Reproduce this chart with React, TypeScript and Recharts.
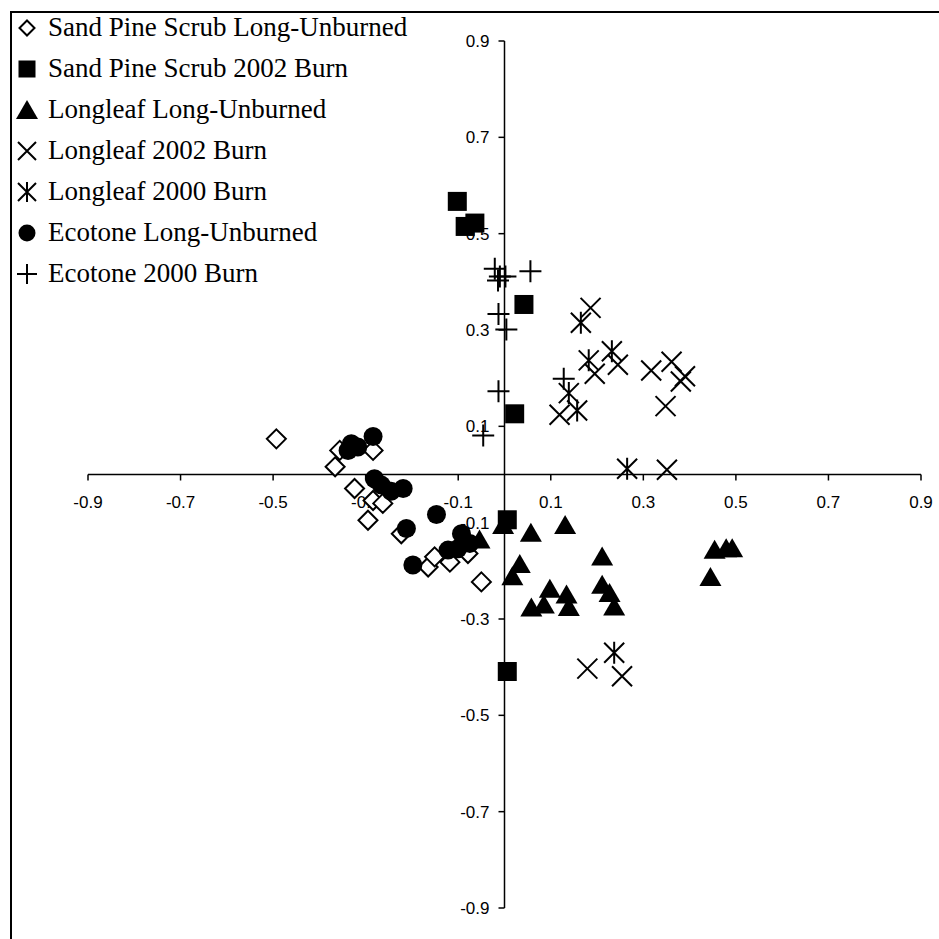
import React from 'react';
import { ScatterChart, Scatter, XAxis, YAxis, ReferenceLine } from 'recharts';

// ordination scores (axis 1 = x, axis 2 = y)
type Pt = { x: number; y: number };

const sandPineUnburned: Pt[] = [
  { x: -0.493, y: 0.074 }, { x: -0.366, y: 0.016 }, { x: -0.356, y: 0.05 },
  { x: -0.284, y: 0.05 }, { x: -0.324, y: -0.029 }, { x: -0.295, y: -0.095 },
  { x: -0.284, y: -0.054 }, { x: -0.263, y: -0.06 }, { x: -0.223, y: -0.123 },
  { x: -0.165, y: -0.192 }, { x: -0.151, y: -0.171 }, { x: -0.118, y: -0.182 },
  { x: -0.079, y: -0.164 }, { x: -0.05, y: -0.223 },
];

const sandPine2002: Pt[] = [
  { x: -0.102, y: 0.567 }, { x: -0.085, y: 0.515 }, { x: -0.064, y: 0.522 },
  { x: 0.042, y: 0.353 }, { x: 0.022, y: 0.126 }, { x: 0.006, y: -0.094 },
  { x: 0.006, y: -0.409 },
];

const longleafUnburned: Pt[] = [
  { x: -0.003, y: -0.105 }, { x: 0.057, y: -0.121 }, { x: 0.131, y: -0.105 },
  { x: 0.033, y: -0.186 }, { x: 0.017, y: -0.211 }, { x: 0.098, y: -0.237 },
  { x: 0.134, y: -0.249 }, { x: 0.058, y: -0.276 }, { x: 0.085, y: -0.27 },
  { x: 0.139, y: -0.275 }, { x: 0.211, y: -0.17 }, { x: 0.211, y: -0.229 },
  { x: 0.227, y: -0.246 }, { x: 0.237, y: -0.274 }, { x: 0.454, y: -0.156 },
  { x: 0.479, y: -0.153 }, { x: 0.492, y: -0.153 }, { x: 0.445, y: -0.213 },
  { x: -0.054, y: -0.135 },
];

const longleaf2002: Pt[] = [
  { x: 0.186, y: 0.346 }, { x: 0.195, y: 0.209 }, { x: 0.245, y: 0.228 },
  { x: 0.317, y: 0.216 }, { x: 0.361, y: 0.234 }, { x: 0.39, y: 0.204 },
  { x: 0.381, y: 0.193 }, { x: 0.348, y: 0.142 }, { x: 0.119, y: 0.124 },
  { x: 0.351, y: 0.01 }, { x: 0.179, y: -0.403 }, { x: 0.254, y: -0.419 },
];

const longleaf2000: Pt[] = [
  { x: 0.165, y: 0.315 }, { x: 0.182, y: 0.237 }, { x: 0.232, y: 0.256 },
  { x: 0.139, y: 0.169 }, { x: 0.157, y: 0.133 }, { x: 0.265, y: 0.012 },
  { x: 0.237, y: -0.37 },
];

const ecotoneUnburned: Pt[] = [
  { x: -0.331, y: 0.064 }, { x: -0.338, y: 0.05 }, { x: -0.317, y: 0.057 },
  { x: -0.284, y: 0.079 }, { x: -0.281, y: -0.009 }, { x: -0.266, y: -0.022 },
  { x: -0.245, y: -0.035 }, { x: -0.219, y: -0.029 }, { x: -0.212, y: -0.112 },
  { x: -0.147, y: -0.083 }, { x: -0.198, y: -0.188 }, { x: -0.122, y: -0.157 },
  { x: -0.093, y: -0.123 }, { x: -0.075, y: -0.143 }, { x: -0.101, y: -0.154 },
];

const ecotone2000: Pt[] = [
  { x: -0.021, y: 0.427 }, { x: -0.014, y: 0.403 }, { x: -0.01, y: 0.411 },
  { x: 0.002, y: 0.411 }, { x: 0.056, y: 0.422 }, { x: -0.013, y: 0.333 },
  { x: 0.004, y: 0.301 }, { x: -0.013, y: 0.173 }, { x: -0.046, y: 0.081 },
  { x: 0.128, y: 0.199 },
];

const TICKS = [-0.9, -0.7, -0.5, -0.3, -0.1, 0.1, 0.3, 0.5, 0.7, 0.9];

const SERIES_NAMES = [
  'Sand Pine Scrub Long-Unburned',
  'Sand Pine Scrub 2002 Burn',
  'Longleaf Long-Unburned',
  'Longleaf 2002 Burn',
  'Longleaf 2000 Burn',
  'Ecotone Long-Unburned',
  'Ecotone 2000 Burn',
];

const TICK_FONT = '"Liberation Sans", Arial, sans-serif';
const LEGEND_FONT = '"Liberation Serif", "Times New Roman", serif';

type Kind = 'diamond' | 'square' | 'triangle' | 'cross' | 'star' | 'circle' | 'plus';

// draws one marker centred on cx, cy; s is the half size
function Marker({ kind, cx, cy, s }: { kind: Kind; cx: number; cy: number; s: number }) {
  const sw = 2;
  switch (kind) {
    case 'diamond':
      return (
        <path
          d={`M${cx},${cy - s} L${cx + s},${cy} L${cx},${cy + s} L${cx - s},${cy} Z`}
          fill="#fff"
          stroke="#000"
          strokeWidth={sw}
        />
      );
    case 'square':
      return <rect x={cx - s} y={cy - s} width={2 * s} height={2 * s} fill="#000" />;
    case 'triangle':
      return (
        <path
          d={`M${cx},${cy - s} L${cx + s * 1.1},${cy + s * 0.9} L${cx - s * 1.1},${cy + s * 0.9} Z`}
          fill="#000"
        />
      );
    case 'circle':
      return <circle cx={cx} cy={cy} r={s} fill="#000" />;
    case 'cross':
      return (
        <path
          d={`M${cx - s},${cy - s} L${cx + s},${cy + s} M${cx + s},${cy - s} L${cx - s},${cy + s}`}
          stroke="#000"
          strokeWidth={sw}
          fill="none"
        />
      );
    case 'star':
      return (
        <path
          d={`M${cx - s},${cy - s} L${cx + s},${cy + s} M${cx + s},${cy - s} L${cx - s},${cy + s} M${cx},${cy - s * 1.1} L${cx},${cy + s * 1.1}`}
          stroke="#000"
          strokeWidth={sw}
          fill="none"
        />
      );
    case 'plus':
    default:
      return (
        <path
          d={`M${cx - s},${cy} L${cx + s},${cy} M${cx},${cy - s} L${cx},${cy + s}`}
          stroke="#000"
          strokeWidth={sw}
          fill="none"
        />
      );
  }
}

const KINDS: Kind[] = ['diamond', 'square', 'triangle', 'cross', 'star', 'circle', 'plus'];
const SIZES = [9.5, 9.5, 10, 10, 10, 9.5, 11];
const LEGEND_SIZES = [7.5, 8.5, 10, 9, 9, 8.5, 10];
const SERIES_DATA = [
  sandPineUnburned,
  sandPine2002,
  longleafUnburned,
  longleaf2002,
  longleaf2000,
  ecotoneUnburned,
  ecotone2000,
];

const xTickData = TICKS.map((v) => ({ x: v, y: 0, label: v.toFixed(1) }));
const yTickData = TICKS.map((v) => ({ x: 0, y: v, label: v.toFixed(1) }));

function XTick(props: any) {
  const { cx, cy, payload } = props;
  return (
    <g>
      <line x1={cx} y1={cy} x2={cx} y2={cy + 6} stroke="#000" strokeWidth={1.5} />
      <text x={cx} y={cy + 33} textAnchor="middle" fontFamily={TICK_FONT} fontSize={17} fill="#000">
        {payload.label}
      </text>
    </g>
  );
}

function YTick(props: any) {
  const { cx, cy, payload } = props;
  return (
    <g>
      <line x1={cx} y1={cy} x2={cx - 6} y2={cy} stroke="#000" strokeWidth={1.5} />
      <text x={cx - 15} y={cy + 6} textAnchor="end" fontFamily={TICK_FONT} fontSize={17} fill="#000">
        {payload.label}
      </text>
    </g>
  );
}

function LegendBox() {
  return (
    <div style={{ position: 'absolute', left: 14, top: 7, fontFamily: LEGEND_FONT, fontSize: 27, color: '#000' }}>
      {SERIES_NAMES.map((name, i) => (
        <div key={name} style={{ display: 'flex', alignItems: 'center', height: 41, whiteSpace: 'nowrap' }}>
          <svg width={26} height={26} style={{ marginRight: 8 }}>
            <Marker kind={KINDS[i]} cx={13} cy={13} s={LEGEND_SIZES[i]} />
          </svg>
          <span>{name}</span>
        </div>
      ))}
    </div>
  );
}

export default function App() {
  return (
    <div style={{ position: 'absolute', left: 0, top: 0, width: 939, height: 939, background: '#fff' }}>
      <div
        style={{
          position: 'absolute',
          left: 10,
          top: 11,
          right: 0,
          bottom: 0,
          borderTop: '2px solid #000',
          borderLeft: '2px solid #000',
        }}
      />
      <ScatterChart width={939} height={939} margin={{ top: 41, right: 18, bottom: 31, left: 88 }}>
        <XAxis type="number" dataKey="x" domain={[-0.9, 0.9]} hide />
        <YAxis type="number" dataKey="y" domain={[-0.9, 0.9]} hide />
        <ReferenceLine y={0} stroke="#000" strokeWidth={1.5} />
        <ReferenceLine x={0} stroke="#000" strokeWidth={1.5} />
        <Scatter data={xTickData} shape={XTick} isAnimationActive={false} />
        <Scatter data={yTickData} shape={YTick} isAnimationActive={false} />
        {SERIES_DATA.map((data, i) => (
          <Scatter
            key={SERIES_NAMES[i]}
            name={SERIES_NAMES[i]}
            data={data}
            isAnimationActive={false}
            shape={(p: any) => <Marker kind={KINDS[i]} cx={p.cx} cy={p.cy} s={SIZES[i]} />}
          />
        ))}
      </ScatterChart>
      <LegendBox />
    </div>
  );
}
